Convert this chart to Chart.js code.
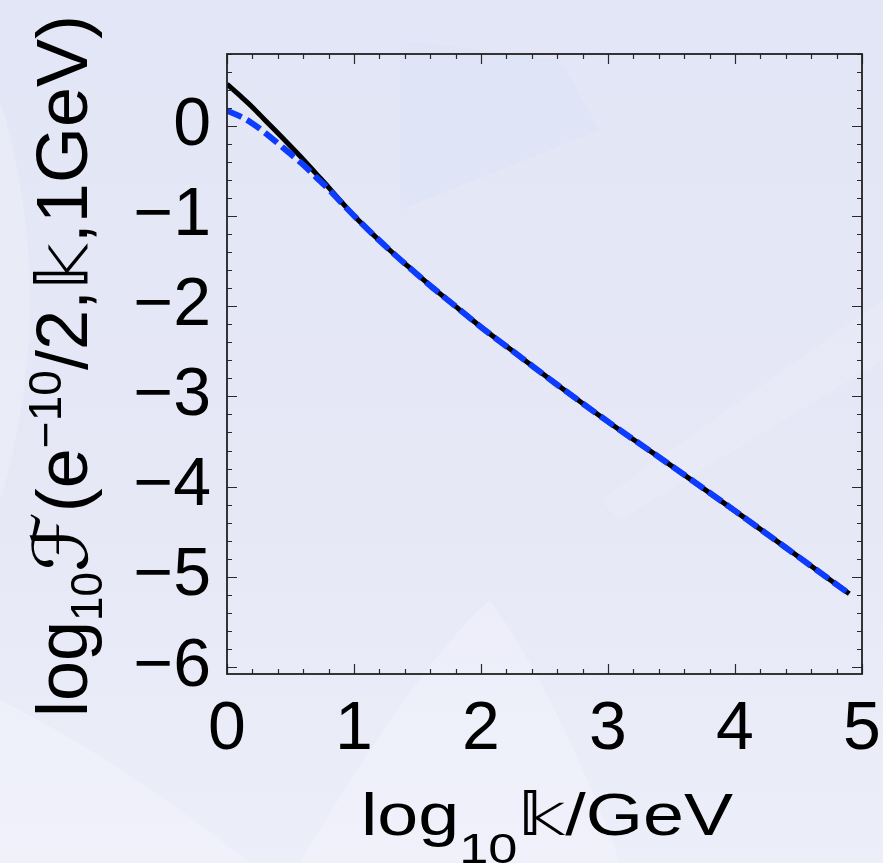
<!DOCTYPE html>
<html>
<head>
<meta charset="utf-8">
<script src="https://cdn.jsdelivr.net/npm/chart.js"></script>
<style>
  html, body { margin: 0; padding: 0; background: #e5e7f6; }
  #wrap { width: 883px; height: 863px; }
</style>
</head>
<body>
<div id="wrap"><canvas id="grafico" width="883" height="863"></canvas></div>
<script>
// valores
const kValues = [0, 0.1, 0.2, 0.3, 0.45, 0.6, 0.7, 0.8, 0.9, 1.0, 1.1, 1.2, 1.3, 1.4, 1.6, 1.8, 2.0, 2.3, 2.6, 3.0, 3.5, 4.0, 4.5, 4.9];
const fullCurve = [0.465, 0.34, 0.21, 0.065, -0.15, -0.37, -0.525, -0.68, -0.84, -0.995, -1.135, -1.27, -1.40, -1.525, -1.77, -2.0, -2.23, -2.55, -2.87, -3.28, -3.77, -4.27, -4.78, -5.19];
const approxCurve = [0.17, 0.11, 0.03, -0.075, -0.25, -0.43, -0.565, -0.70, -0.85, -0.995, -1.135, -1.27, -1.40, -1.525, -1.77, -2.0, -2.23, -2.55, -2.87, -3.28, -3.77, -4.27, -4.78, -5.19];

const xTickValues = [0, 1, 2, 3, 4, 5];
const xTickLabels = ['0', '1', '2', '3', '4', '5'];
const yTickValues = [0, -1, -2, -3, -4, -5, -6];
const yTickLabels = ['0', '\u22121', '\u22122', '\u22123', '\u22124', '\u22125', '\u22126'];

const FONT = '"Liberation Sans", Arial, Helvetica, sans-serif';

function rotulo(valores, rotulos) {
  return function (v) {
    const i = valores.findIndex(t => Math.abs(t - v) < 1e-6);
    return i >= 0 ? rotulos[i] : '';
  };
}

function multiplo(v, passo) {
  const r = v / passo;
  return Math.abs(r - Math.round(r)) < 1e-6;
}

// fundo claro com algumas manchas
const fundo = {
  id: 'fundo',
  beforeDraw(chart) {
    const c = chart.ctx;
    c.save();
    const g = c.createLinearGradient(0, 0, 0, 863);
    g.addColorStop(0, '#e3e6f6');
    g.addColorStop(0.6, '#e6e8f6');
    g.addColorStop(1, '#eceef9');
    c.fillStyle = g;
    c.fillRect(0, 0, 883, 863);

    c.fillStyle = 'rgba(214,226,246,0.35)';
    c.beginPath();
    c.moveTo(400, 40); c.lineTo(560, 60); c.lineTo(600, 130); c.lineTo(400, 210);
    c.closePath(); c.fill();

    c.fillStyle = 'rgba(250,250,255,0.3)';
    c.beginPath();
    c.moveTo(300, 863); c.quadraticCurveTo(420, 660, 490, 600);
    c.quadraticCurveTo(560, 700, 620, 863);
    c.closePath(); c.fill();

    c.fillStyle = 'rgba(250,250,255,0.3)';
    c.beginPath();
    c.moveTo(0, 700); c.quadraticCurveTo(120, 760, 250, 863); c.lineTo(0, 863);
    c.closePath(); c.fill();

    c.fillStyle = 'rgba(245,246,255,0.18)';
    c.beginPath();
    c.moveTo(883, 300); c.lineTo(883, 360); c.lineTo(620, 520); c.lineTo(600, 500);
    c.closePath(); c.fill();

    c.fillStyle = 'rgba(255,255,255,0.18)';
    c.beginPath();
    c.moveTo(0, 100); c.quadraticCurveTo(60, 300, 0, 500);
    c.closePath(); c.fill();
    c.restore();
  }
};

// moldura e marcas internas
const moldura = {
  id: 'moldura',
  afterDatasetsDraw(chart) {
    const c = chart.ctx;
    const a = chart.chartArea;
    const xs = chart.scales.x, ys = chart.scales.y;
    c.save();
    c.strokeStyle = '#2a2a2a';
    c.lineWidth = 1.2;
    xs.ticks.forEach(t => {
      if (!multiplo(t.value, 0.2)) return;
      const p = Math.round(xs.getPixelForValue(t.value)) + 0.5;
      const len = multiplo(t.value, 1) ? 10 : 5;
      c.beginPath();
      c.moveTo(p, a.bottom); c.lineTo(p, a.bottom - len);
      c.moveTo(p, a.top); c.lineTo(p, a.top + len);
      c.stroke();
    });
    ys.ticks.forEach(t => {
      if (!multiplo(t.value, 0.2)) return;
      const p = Math.round(ys.getPixelForValue(t.value)) + 0.5;
      const len = multiplo(t.value, 1) ? 10 : 5;
      c.beginPath();
      c.moveTo(a.left, p); c.lineTo(a.left + len, p);
      c.moveTo(a.right, p); c.lineTo(a.right - len, p);
      c.stroke();
    });
    c.lineWidth = 1.8;
    c.strokeStyle = '#222';
    c.strokeRect(a.left, a.top, a.right - a.left, a.bottom - a.top);
    c.restore();
  }
};

// desenha um texto em partes (com índices) esticado até um comprimento
function textoComposto(c, partes, comprimento) {
  let total = 0;
  partes.forEach(p => {
    c.font = p.size + 'px ' + (p.family || FONT);
    p.w = c.measureText(p.t).width;
    total += p.w;
  });
  const sx = comprimento / total;
  c.scale(sx, 1);
  let x = 0;
  partes.forEach(p => {
    c.font = p.size + 'px ' + (p.family || FONT);
    c.fillText(p.t, x, p.dy || 0);
    x += p.w;
  });
}

const titulos = {
  id: 'titulos',
  afterDraw(chart) {
    const c = chart.ctx;
    c.save();
    c.fillStyle = '#000';
    c.textBaseline = 'alphabetic';
    c.textAlign = 'left';
    // eixo x
    c.save();
    c.translate(361, 835);
    textoComposto(c, [
      { t: 'log', size: 59 },
      { t: '10', size: 42, dy: 28 },
      { t: '\u{1D55C}', size: 59, family: '"DejaVu Sans", sans-serif' },
      { t: '/GeV', size: 59 }
    ], 372);
    c.restore();
    // eixo y
    c.save();
    c.translate(87, 717);
    c.rotate(-Math.PI / 2);
    textoComposto(c, [
      { t: 'log', size: 72 },
      { t: '10', size: 44, dy: 15 },
      { t: '\u2131', size: 76, family: '"DejaVu Serif", "DejaVu Sans", serif' },
      { t: '(e', size: 72 },
      { t: '\u221210', size: 46, dy: -26 },
      { t: '/2,', size: 72 },
      { t: '\u{1D55C}', size: 72, family: '"DejaVu Sans", sans-serif' },
      { t: ',1GeV)', size: 72 }
    ], 702);
    c.restore();
    c.restore();
  }
};

window.addEventListener('DOMContentLoaded', () => {
  const ctx = document.getElementById('grafico').getContext('2d');

  const data = {
    datasets: [
      {
        label: 'completo',
        data: kValues.map((k, i) => ({ x: k, y: fullCurve[i] })),
        borderColor: '#000000',
        borderWidth: 5,
        pointRadius: 0,
        cubicInterpolationMode: 'monotone',
        order: 2
      },
      {
        label: 'aproximado',
        data: kValues.map((k, i) => ({ x: k, y: approxCurve[i] })),
        borderColor: '#0d3cff',
        borderWidth: 6,
        borderDash: [16, 6],
        pointRadius: 0,
        cubicInterpolationMode: 'monotone',
        order: 1
      }
    ]
  };

  const options = {
    responsive: false,
    devicePixelRatio: 1,
    animation: false,
    layout: { padding: { left: 0, top: 54, right: 21, bottom: 0 } },
    plugins: { legend: { display: false }, tooltip: { enabled: false } },
    scales: {
      x: {
        type: 'linear',
        min: 0,
        max: 5,
        grid: { display: false },
        border: { display: false },
        ticks: {
          stepSize: 0.2,
          includeBounds: false,
          autoSkip: false,
          maxRotation: 0,
          minRotation: 0,
          padding: 14,
          color: '#000',
          font: { family: FONT, size: 68, lineHeight: 1 },
          callback: rotulo(xTickValues, xTickLabels)
        },
        afterFit(scale) {
          scale.height = 863 - 674;
          scale.paddingLeft = 0;
          scale.paddingRight = 0;
        }
      },
      y: {
        type: 'linear',
        min: -6.08,
        max: 0.8,
        grid: { display: false },
        border: { display: false },
        ticks: {
          stepSize: 0.2,
          includeBounds: false,
          autoSkip: false,
          padding: 8,
          color: '#000',
          font: { family: FONT, size: 68, lineHeight: 1 },
          callback: rotulo(yTickValues, yTickLabels)
        },
        afterFit(scale) {
          scale.width = 227;
          scale.paddingTop = 0;
          scale.paddingBottom = 0;
        }
      }
    }
  };

  new Chart(ctx, {
    type: 'line',
    data: data,
    options: options,
    plugins: [fundo, moldura, titulos]
  });
});
</script>
</body>
</html>
